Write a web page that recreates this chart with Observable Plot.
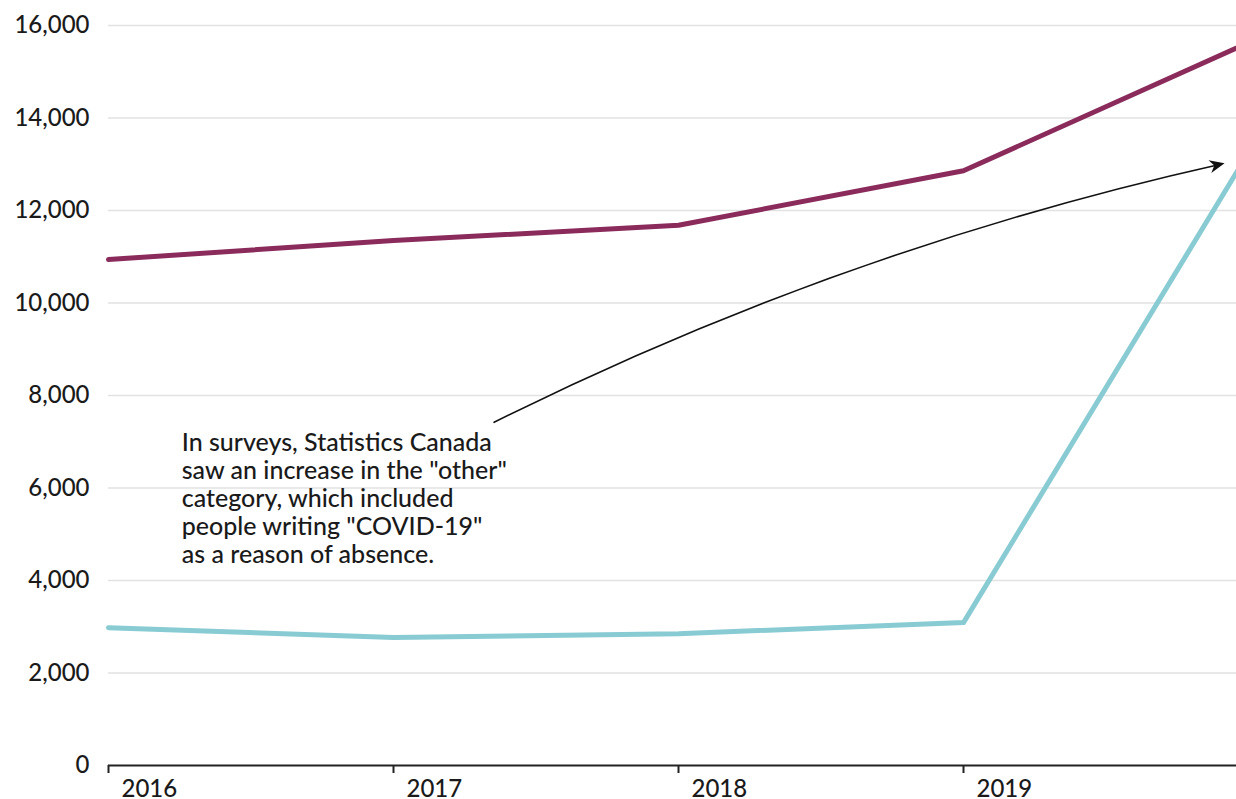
<!DOCTYPE html>
<html>
<head>
<meta charset="utf-8">
<script src="https://cdn.jsdelivr.net/npm/d3@7"></script>
<script src="https://cdn.jsdelivr.net/npm/@observablehq/plot@0.6"></script>
<style>
  html, body { margin: 0; padding: 0; background: #fff; overflow: hidden; }
  #chart { width: 1236px; height: 799px; overflow: hidden; }
  #chart svg { display: block; max-width: none !important; }
</style>
</head>
<body>
<div id="chart"></div>
<script>
// Data
const years = [2016, 2017, 2018, 2019, 2020];
const seriesTotal = [10940, 11350, 11680, 12860, 15630];
const seriesOther = [2980, 2770, 2850, 3090, 13250];
const yTicks = [0, 2000, 4000, 6000, 8000, 10000, 12000, 14000, 16000];
const xTicks = [2016, 2017, 2018, 2019];

// Annotation
const noteLines = [
  "In surveys, Statistics Canada",
  "saw an increase in the \"other\"",
  "category, which included",
  "people writing \"COVID-19\"",
  "as a reason of absence."
];
const notePos = {x: 2016.257, y: 7230};
const arrowFrom = {x: 2017.353, y: 7420};
const arrowTo = {x: 2019.916, y: 13020};

const rows = [];
years.forEach((yr, i) => {
  rows.push({year: yr, value: seriesTotal[i], series: "total"});
  rows.push({year: yr, value: seriesOther[i], series: "other"});
});

// filled notched arrowhead, tip at origin, pointing along +x
const arrowHead = {
  draw(ctx) {
    ctx.moveTo(0, 0);
    ctx.lineTo(-15, -6.5);
    ctx.lineTo(-10.5, 0);
    ctx.lineTo(-15, 6.5);
    ctx.closePath();
  }
};

const font = "Lato, 'Open Sans', sans-serif";

const chart = Plot.plot({
  width: 1248,
  height: 799,
  marginLeft: 108,
  marginRight: 0,
  marginTop: 25,
  marginBottom: 34,
  style: {fontFamily: font, fontSize: "24px", color: "#222", background: "#fff", maxWidth: "none"},
  x: {domain: [2016, 2020], label: null},
  y: {domain: [0, 16000], label: null},
  color: {domain: ["total", "other"], range: ["#8a2b5b", "#88cbd3"]},
  marks: [
    Plot.ruleY(yTicks.filter(d => d > 0), {stroke: "#e2e2e2", strokeWidth: 1.3}),
    Plot.axisY(yTicks, {tickSize: 0, tickPadding: 19, tickFormat: d3.format(","), fontSize: 24, fill: "#1a1a1a", fontWeight: 500}),
    Plot.line(rows, {x: "year", y: "value", z: "series", stroke: "series", strokeWidth: 5, strokeLinejoin: "round", strokeLinecap: "round"}),
    Plot.ruleY([0], {stroke: "#222", strokeWidth: 2}),
    Plot.axisX(xTicks, {tickSize: 8, tickFormat: () => "", stroke: "#222", strokeWidth: 2}),
    Plot.axisX(xTicks, {tickSize: 0, tickPadding: 14, textAnchor: "start", dx: 13, tickFormat: d => String(d), fontSize: 24, fill: "#1a1a1a", fontWeight: 500}),
    Plot.arrow([0], {x1: () => arrowFrom.x, y1: () => arrowFrom.y, x2: () => arrowTo.x, y2: () => arrowTo.y, bend: 7, stroke: "#111", strokeWidth: 1.6, headLength: 0, insetEnd: 4}),
    Plot.dot([0], {x: () => arrowTo.x, y: () => arrowTo.y, symbol: arrowHead, r: 5, fill: "#111", stroke: "none", rotate: -12.5}),
    Plot.text([noteLines.join("\n")], {x: () => notePos.x, y: () => notePos.y, text: d => d, textAnchor: "start", lineAnchor: "top", lineHeight: 1.12, fontSize: 25, fontWeight: 500, fill: "#1a1a1a"})
  ]
});

document.getElementById("chart").appendChild(chart);
</script>
</body>
</html>
